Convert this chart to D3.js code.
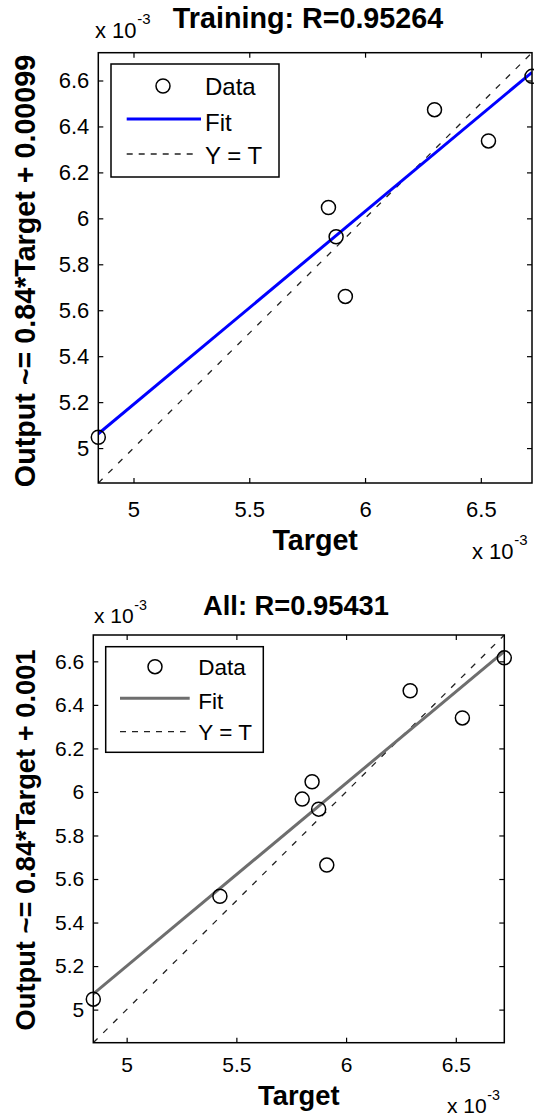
<!DOCTYPE html>
<html>
<head>
<meta charset="utf-8">
<script src="https://d3js.org/d3.v7.min.js"></script>
<style>
  body { margin: 0; background: #fff; }
  text { font-family: 'Liberation Sans', Arial, sans-serif; fill: #000; }
  .frame { fill: none; stroke: #000; stroke-width: 1.5px; }
  .tick line { stroke: #000; stroke-width: 1.2px; }
  .domain { display: none; }
  .bold { font-weight: bold; }
</style>
</head>
<body>
<svg id="chart" width="534" height="1117"></svg>
<script>
// values are in units of 1e-3
var trainTarget = [4.848, 5.842, 5.875, 5.915, 6.300, 6.533, 6.721];
var trainOutput = [5.047, 6.047, 5.920, 5.660, 6.473, 6.337, 6.618];
var trainFit = [0.84, 0.99];   // slope, intercept (x 1e-3)

var allTarget = [4.848, 5.425, 5.800, 5.845, 5.875, 5.912, 6.292, 6.530, 6.721];
var allOutput = [5.048, 5.521, 5.967, 6.047, 5.921, 5.664, 6.465, 6.340, 6.616];
var allFit = [0.84, 1.0];

var xTicks = [5, 5.5, 6, 6.5];
var yTicks = [5, 5.2, 5.4, 5.6, 5.8, 6, 6.2, 6.4, 6.6];
var legendLabels = ["Data", "Fit", "Y = T"];

var panels = [
  {
    target: trainTarget, output: trainOutput, fit: trainFit,
    title: "Training: R=0.95264", ylabel: "Output ~= 0.84*Target + 0.00099",
    fitColor: "#0000ff",
    box: {left: 98.3, right: 532, top: 52.7, bottom: 483},
    tickFont: 22, xPad: 18, labelFont: 28.7,
    titleX: 308, titleY: 28, ylabX: 35, ylabY: 271,
    targetY: 550,
    expTL: [95, 38, 22], expBR: [472, 559, 22],
    legend: {x: 111, y: 64, w: 168, h: 113, font: 24, mx: 52, tx: 94, rows: [22, 55, 90], base: [31, 66.7, 100], l0: 15.7, l1: 90}
  },
  {
    target: allTarget, output: allOutput, fit: allFit,
    title: "All: R=0.95431", ylabel: "Output ~= 0.84*Target + 0.001",
    fitColor: "#6e6e6e",
    box: {left: 93.3, right: 504.3, top: 635, bottom: 1042.7},
    tickFont: 21, xPad: 14, labelFont: 27.3,
    titleX: 296, titleY: 615, ylabX: 35, ylabY: 840,
    targetY: 1105,
    expTL: [94, 622.7, 21], expBR: [447, 1113, 21],
    legend: {x: 105.7, y: 646.7, w: 157.6, h: 105.6, font: 22.5, mx: 49.3, tx: 92.6, rows: [20, 51.6, 85], base: [28.3, 62.3, 93.3], l0: 14.3, l1: 84}
  }
];

var svg = d3.select("#chart");

function drawExp(g, p) {
  g.append("text").attr("x", p[0]).attr("y", p[1]).style("font-size", p[2] + "px").text("x 10");
  g.append("text").attr("x", p[0] + p[2] * 1.92).attr("y", p[1] - p[2] * 0.62)
    .style("font-size", (p[2] * 0.68) + "px").text("-3");
}

panels.forEach(function(p) {
  var b = p.box;
  var lo = d3.min(p.target.concat(p.output));
  var hi = d3.max(p.target.concat(p.output));

  var x = d3.scaleLinear().domain([lo, hi]).range([b.left, b.right]);
  var y = d3.scaleLinear().domain([lo, hi]).range([b.bottom, b.top]);

  var g = svg.append("g");

  // axes, ticks pointing inward on all four sides
  g.append("g").attr("transform", "translate(0," + b.bottom + ")")
    .call(d3.axisBottom(x).tickValues(xTicks).tickSize(-5).tickPadding(p.xPad).tickFormat(d3.format("~g")))
    .selectAll("text").style("font-size", p.tickFont + "px");
  g.append("g").attr("transform", "translate(0," + b.top + ")")
    .call(d3.axisTop(x).tickValues(xTicks).tickSize(-5).tickFormat(""));
  g.append("g").attr("transform", "translate(" + b.left + ",0)")
    .call(d3.axisLeft(y).tickValues(yTicks).tickSize(-5).tickPadding(9).tickFormat(d3.format("~g")))
    .selectAll("text").style("font-size", p.tickFont + "px");
  g.append("g").attr("transform", "translate(" + b.right + ",0)")
    .call(d3.axisRight(y).tickValues(yTicks).tickSize(-5).tickFormat(""));
  g.selectAll(".tick text").attr("fill", "#000");

  var clip = "clip" + p.title.length;
  g.append("clipPath").attr("id", clip).append("rect")
    .attr("x", b.left).attr("y", b.top).attr("width", b.right - b.left).attr("height", b.bottom - b.top);

  var plot = g.append("g").attr("clip-path", "url(#" + clip + ")");

  // Y = T
  plot.append("line")
    .attr("x1", x(lo)).attr("y1", y(lo)).attr("x2", x(hi)).attr("y2", y(hi))
    .attr("stroke", "#222").attr("stroke-width", 1.3).attr("stroke-dasharray", "6,8");

  // fit
  plot.append("line")
    .attr("x1", x(lo)).attr("y1", y(p.fit[0] * lo + p.fit[1]))
    .attr("x2", x(hi)).attr("y2", y(p.fit[0] * hi + p.fit[1]))
    .attr("stroke", p.fitColor).attr("stroke-width", 3);

  g.selectAll("circle.pt").data(p.target).enter().append("circle")
    .attr("class", "pt")
    .attr("cx", function(d) { return x(d); })
    .attr("cy", function(d, i) { return y(p.output[i]); })
    .attr("r", 7).attr("fill", "none").attr("stroke", "#000").attr("stroke-width", 1.5);

  g.append("rect").attr("class", "frame")
    .attr("x", b.left).attr("y", b.top).attr("width", b.right - b.left).attr("height", b.bottom - b.top);

  // legend
  var L = p.legend;
  var lg = g.append("g").attr("transform", "translate(" + L.x + "," + L.y + ")");
  lg.append("rect").attr("width", L.w).attr("height", L.h)
    .attr("fill", "#fff").attr("stroke", "#000").attr("stroke-width", 1.5);
  lg.append("circle").attr("cx", L.mx).attr("cy", L.rows[0]).attr("r", 7)
    .attr("fill", "none").attr("stroke", "#000").attr("stroke-width", 1.5);
  lg.append("line").attr("x1", L.l0).attr("x2", L.l1).attr("y1", L.rows[1]).attr("y2", L.rows[1])
    .attr("stroke", p.fitColor).attr("stroke-width", 3);
  lg.append("line").attr("x1", L.l0).attr("x2", L.l1 - 4).attr("y1", L.rows[2]).attr("y2", L.rows[2])
    .attr("stroke", "#222").attr("stroke-width", 1.3).attr("stroke-dasharray", "6,6");
  lg.selectAll("text.lab").data(legendLabels).enter().append("text")
    .attr("class", "lab")
    .attr("x", L.tx).attr("y", function(d, i) { return L.base[i]; })
    .style("font-size", L.font + "px").text(function(d) { return d; });

  // labels
  g.append("text").attr("class", "bold").attr("x", p.titleX).attr("y", p.titleY)
    .attr("text-anchor", "middle").style("font-size", p.labelFont + "px").text(p.title);
  g.append("text").attr("class", "bold")
    .attr("transform", "translate(" + p.ylabX + "," + p.ylabY + ") rotate(-90)")
    .attr("text-anchor", "middle").style("font-size", p.labelFont + "px").text(p.ylabel);
  g.append("text").attr("class", "bold").attr("x", (b.left + b.right) / 2).attr("y", p.targetY)
    .attr("text-anchor", "middle").style("font-size", p.labelFont + "px").text("Target");

  drawExp(g, p.expTL);
  drawExp(g, p.expBR);
});
</script>
</body>
</html>
